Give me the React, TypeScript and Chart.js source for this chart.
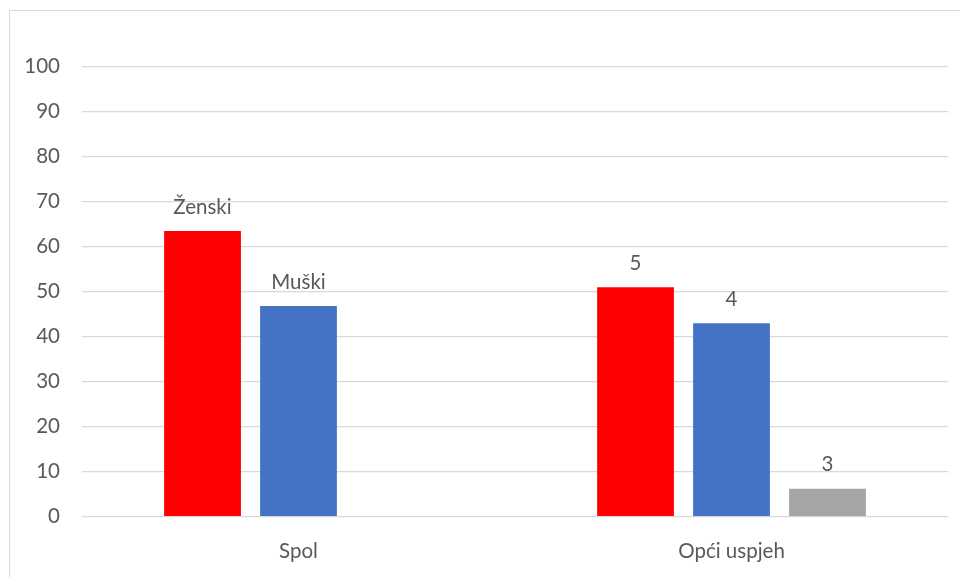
import React, { useEffect, useRef } from "react";
import { Chart, registerables } from "chart.js";

Chart.register(...registerables);

const categories = ["Spol", "Opći uspjeh"];
const redValues = [63.5, 51.0];
const blueValues = [46.8, 43.0];
const grayValues: (number | null)[] = [null, 6.2];
const redLabels = ["Ženski", "5"];
const blueLabels = ["Muški", "4"];
const grayLabels = ["", "3"];
const yTicks = [0, 10, 20, 30, 40, 50, 60, 70, 80, 90, 100];

const FONT = "Lato, 'Open Sans', sans-serif";
const TEXT = "#595959";
const FS = 20.5;

const labelPlugin = {
  id: "barLabels",
  afterDatasetsDraw(chart: any) {
    const ctx = chart.ctx;
    ctx.save();
    ctx.font = `${FS}px ${FONT}`;
    ctx.fillStyle = TEXT;
    ctx.textAlign = "center";
    ctx.textBaseline = "middle";
    chart.data.datasets.forEach((ds: any, di: number) => {
      const meta = chart.getDatasetMeta(di);
      meta.data.forEach((el: any, i: number) => {
        const v = ds.data[i];
        const txt = ds.barLabels[i];
        if (v == null || !txt) return;
        ctx.fillText(txt, el.x, el.y - 24);
      });
    });
    ctx.restore();
  },
};

export default function App() {
  const ref = useRef<HTMLCanvasElement>(null);
  useEffect(() => {
    if (!ref.current) return;
    const chart = new Chart(ref.current, {
      type: "bar",
      data: {
        labels: categories,
        datasets: [
          { label: "A", data: redValues, backgroundColor: "#FF0000", barLabels: redLabels } as any,
          { label: "B", data: blueValues, backgroundColor: "#4472C4", barLabels: blueLabels } as any,
          { label: "C", data: grayValues, backgroundColor: "#A5A5A5", barLabels: grayLabels } as any,
        ],
      },
      options: {
        animation: false,
        responsive: false,
        devicePixelRatio: 1,
        categoryPercentage: 0.665,
        barPercentage: 0.8,
        layout: { padding: { top: 66.7, right: 12, left: 0, bottom: 0 } },
        plugins: {
          legend: { display: false },
          tooltip: { enabled: false },
          title: { display: false },
        },
        scales: {
          x: {
            grid: { display: false },
            border: { display: false },
            ticks: { color: TEXT, font: { family: FONT, size: FS }, padding: 14 },
            afterFit: (s: any) => { s.height = 577 - 516.7; },
          },
          y: {
            min: 0,
            max: 100,
            afterBuildTicks: (s: any) => { s.ticks = yTicks.map((v) => ({ value: v })); },
            grid: { color: "#D9D9D9", lineWidth: 1.3, drawTicks: false },
            border: { display: false },
            ticks: { color: TEXT, font: { family: FONT, size: FS }, padding: 22 },
            afterFit: (s: any) => { s.width = 82; },
          },
        },
      },
      plugins: [labelPlugin],
    });
    return () => chart.destroy();
  }, []);
  return (
    <div style={{ position: "fixed", left: 0, top: 0, width: 960, height: 577, background: "#fff", overflow: "hidden" }}>
      <div style={{ position: "absolute", left: 9, top: 10, width: 980, height: 600, border: "1.5px solid #D9D9D9", boxSizing: "border-box" }} />
      <canvas ref={ref} width={960} height={577} style={{ position: "absolute", left: 0, top: 0, width: 960, height: 577 }} />
    </div>
  );
}
